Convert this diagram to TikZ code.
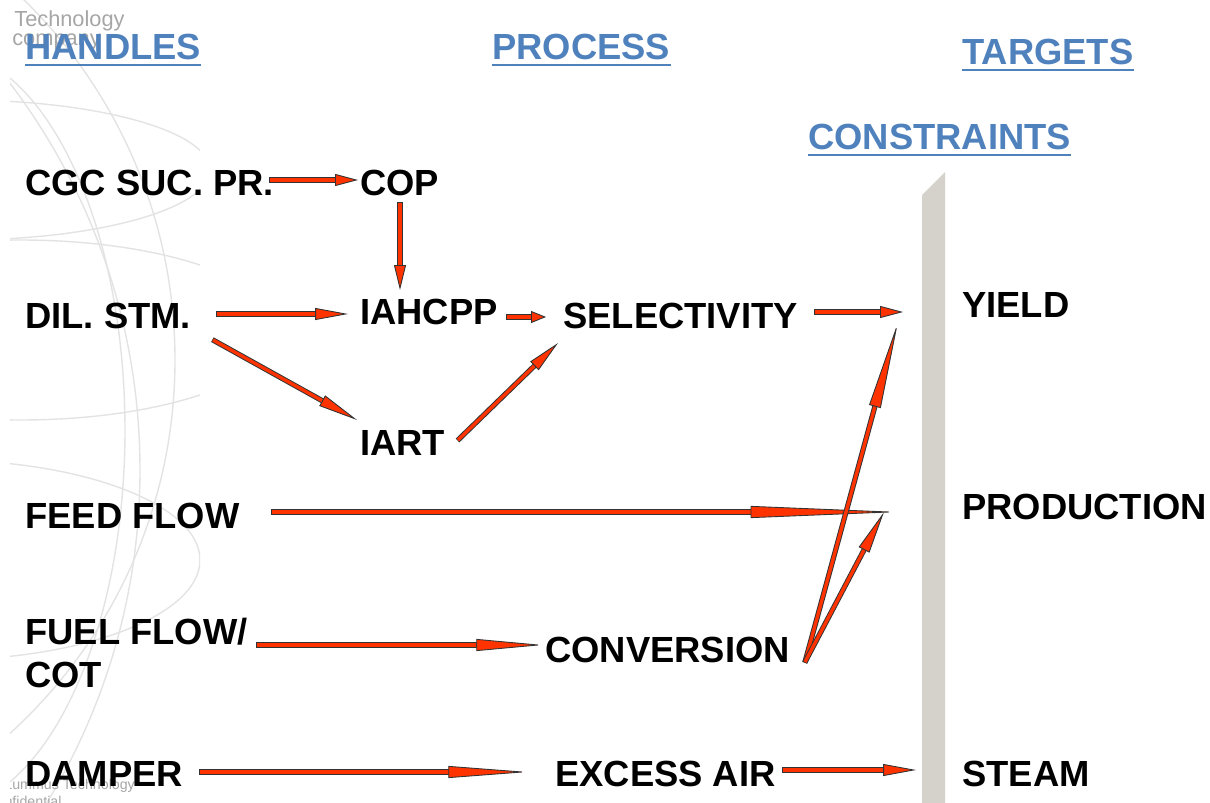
\documentclass[tikz,border=0pt]{standalone}
\usepackage{fontspec}
\setmainfont{Liberation Sans}
\usetikzlibrary{arrows.meta}
\definecolor{hdrblue}{RGB}{79,129,189}
\definecolor{flowred}{RGB}{255,51,0}
\definecolor{barfill}{RGB}{212,210,203}
\tikzset{
    lbl/.style={font=\fontsize{20.7}{25}\selectfont\bfseries, anchor=base west, inner sep=0pt},
    hdr/.style={lbl, text=hdrblue},
    wmtext/.style={text=gray!70, anchor=base west, inner sep=0pt},
    globe/.style={draw=gray!22, line width=0.8pt},
    flow back/.style={draw=black!80, line width=3pt, shorten <=-0.4pt},
    flow front/.style={draw=flowred, line width=1.9pt}}

\begin{document}
\begin{tikzpicture}[x=0.02cm,y=-0.02cm]
\useasboundingbox (0,0) rectangle (1210,803);

% watermark
\begin{scope}
\clip (10,0) rectangle (200,803);
\draw[globe] (-330,360) circle (505);
\draw[globe] (-500,470) circle (640);
\draw[globe] (-60,430) ellipse (185 and 380);
\draw[globe] (20,330) ellipse (260 and 90);
\draw[globe] (-60,560) ellipse (260 and 100);
\draw[globe] (-40,170) ellipse (250 and 70);
\node[wmtext, font=\fontsize{12.4}{14}\selectfont] (wm1) at (14,27) {Technology};
\node[wmtext, font=\fontsize{12.4}{14}\selectfont] (wm2) at (12,46) {company};
\node[wmtext, font=\fontsize{8.1}{9}\selectfont] (wm3) at (4,789) {Lummus Technology};
\node[wmtext, font=\fontsize{8.1}{9}\selectfont] (wm4) at (-14,806) {Confidential};
\end{scope}

% constraint bar
\fill[barfill] (922,195) -- (945,172) -- (945,803) -- (922,803) -- cycle;

% headers
\node[hdr] (handles) at (25,60) {HANDLES};
\node[hdr] (process) at (492,60) {PROCESS};
\node[hdr] (targets) at (962,65) {TARGETS};
\node[hdr] (constr) at (808,150) {CONSTRAINTS};
\foreach \h in {handles,process,targets,constr}
  \draw[hdrblue, line width=1.3pt] ([yshift=-3pt]\h.base west) -- ([yshift=-3pt]\h.base east);

% labels
\node[lbl] (cgc) at (25,196) {CGC SUC. PR.};
\node[lbl] (cop) at (360,196) {COP};
\node[lbl] (dil) at (25,329) {DIL. STM.};
\node[lbl] (iahcpp) at (360,325) {IAHCPP};
\node[lbl] (sel) at (563,329) {SELECTIVITY};
\node[lbl] (iart) at (360,456) {IART};
\node[lbl] (yield) at (962,318) {YIELD};
\node[lbl] (feed) at (25,528) {FEED FLOW};
\node[lbl] (prod) at (962,520) {PRODUCTION};
\node[lbl, anchor=west, align=left] (fuel) at (25,653) {FUEL FLOW/\\COT};
\node[lbl] (conv) at (545,662) {CONVERSION};
\node[lbl] (damper) at (25,786) {DAMPER};
\node[lbl] (excess) at (555,786) {EXCESS AIR};
\node[lbl] (steam) at (962,786) {STEAM};

% arrow ends
\coordinate (cgc-r) at (270,180);
\coordinate (cop-l) at (358,180);
\coordinate (cop-b) at (400,203);
\coordinate (iahcpp-t) at (400,290);
\coordinate (dil-r) at (217,314);
\coordinate (iahcpp-l) at (348,314);
\coordinate (dil-br) at (213,340);
\coordinate (iart-tl) at (357,420);
\coordinate (iahcpp-r) at (507,317);
\coordinate (sel-l) at (546,317);
\coordinate (iart-r) at (458,440);
\coordinate (sel-bl) at (558,343);
\coordinate (sel-r) at (815,312);
\coordinate (yield-l) at (903,312);
\coordinate (feed-r) at (272,512);
\coordinate (prod-l) at (900,512);
\coordinate (conv-r) at (805,662);
\coordinate (yield-bl) at (898,322);
\coordinate (prod-bl) at (884,512);
\coordinate (fuel-r) at (257,645);
\coordinate (conv-l) at (543,645);
\coordinate (damper-r) at (200,772);
\coordinate (excess-l) at (528,772);
\coordinate (excess-r) at (783,770);
\coordinate (steam-l) at (916,770);

\foreach \a/\b/\h in {cgc-r/cop-l/23, cop-b/iahcpp-t/25, dil-r/iahcpp-l/33,
    dil-br/iart-tl/40, iahcpp-r/sel-l/15, iart-r/sel-bl/33, sel-r/yield-l/23,
    feed-r/prod-l/150, conv-r/yield-bl/88, conv-r/prod-bl/43, fuel-r/conv-l/67,
    damper-r/excess-l/80, excess-r/steam-l/33}{
  \pgfmathsetlengthmacro\hd{\h*0.567pt}
  \pgfmathsetlengthmacro\hs{(\h-3)*0.567pt}
  \draw[flow back, shorten >=\hs] (\a) -- (\b);
  \draw[flow front, -{Triangle[length=\hd, width=6.8pt, fill=flowred, color=black!80, line width=0.5pt]}] (\a) -- (\b);
}
\end{tikzpicture}
\end{document}
